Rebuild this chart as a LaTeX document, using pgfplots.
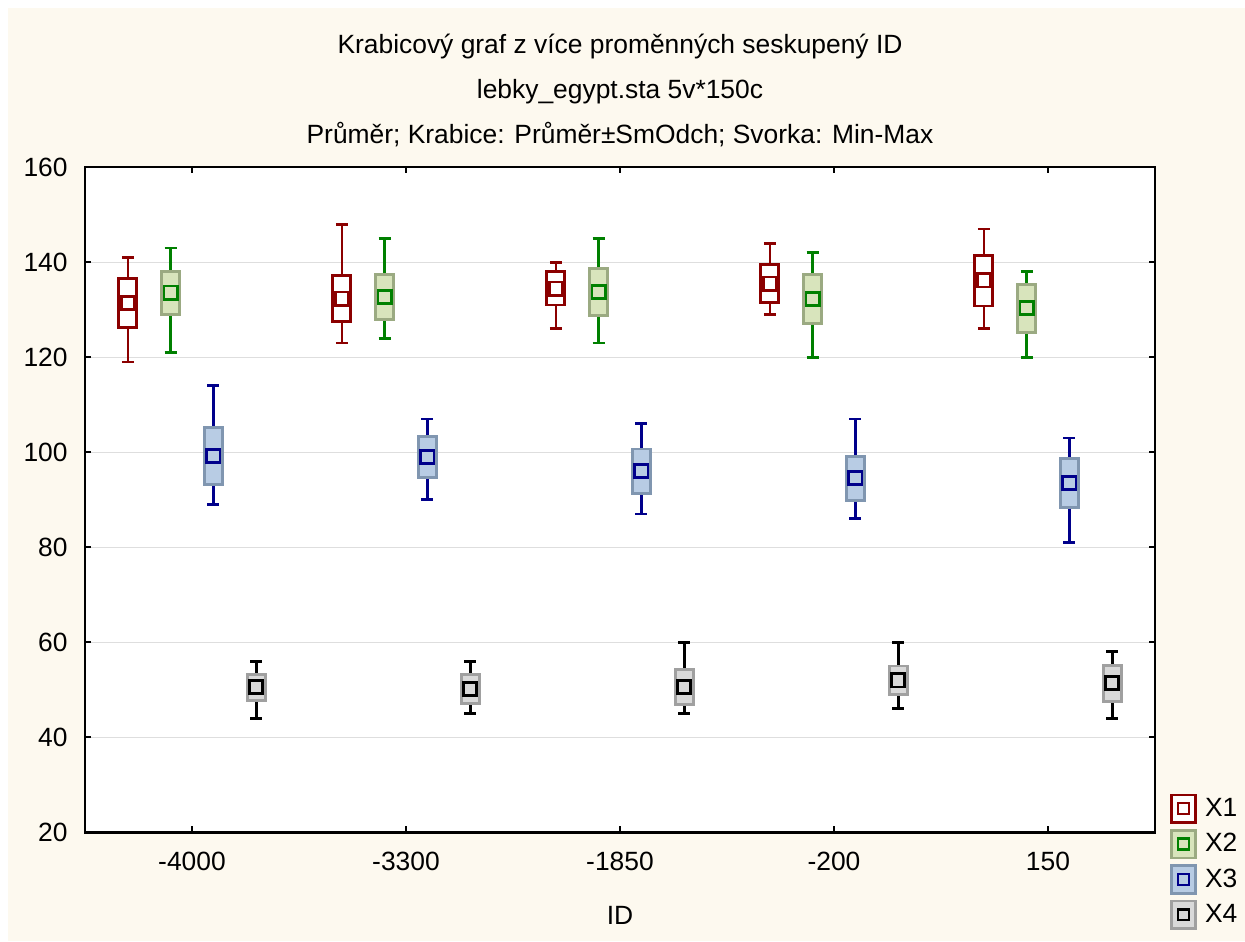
\documentclass[border=0pt]{standalone}
\usepackage{pgfplots}
\pgfplotsset{compat=1.18}
\usepgfplotslibrary{statistics}
\usepackage{fontspec}
\setmainfont{Liberation Sans}

\definecolor{bg}{RGB}{253,249,239}
\definecolor{cA}{RGB}{139,0,0}
\definecolor{cB}{RGB}{0,128,0}
\definecolor{cBf}{RGB}{216,228,188}
\definecolor{cBe}{RGB}{155,170,130}
\definecolor{cC}{RGB}{0,0,139}
\definecolor{cCf}{RGB}{184,204,228}
\definecolor{cCe}{RGB}{128,150,176}
\definecolor{cD}{RGB}{0,0,0}
\definecolor{cDf}{RGB}{217,217,217}
\definecolor{cDe}{RGB}{160,160,160}
\definecolor{grd}{RGB}{222,222,222}

\newcommand\fs{\fontsize{13.2}{15}\selectfont}

\pgfplotsset{
 bx/.style n args={3}{
   boxplot/draw direction=y,
   boxplot/every box/.style={draw=#2,fill=#3,line width=1.45pt},
   boxplot/every whisker/.style={draw=#1,line width=1.3pt},
   boxplot/every median/.style={draw=none},
   boxplot/box extend=0.085,
   boxplot/whisker extend=0.056,
   forget plot},
 mn/.style n args={2}{only marks, mark=square*, mark size=3.3pt,
   mark options={draw=#1, fill=#2, line width=1.4pt}, forget plot},
 lg/.style n args={3}{legend image code/.code={
   \draw[draw=#2,fill=#3,line width=1.3pt] (0pt,-6.9pt) rectangle (11.8pt,6.9pt);
   \draw[draw=#1,fill=#3,line width=1.2pt] (3.2pt,-2.7pt) rectangle (8.6pt,2.7pt);
   \path (14.5pt,0pt);}},
}

\begin{document}
\begin{tikzpicture}[x=1pt,y=1pt]
\fill[white] (0pt,0pt) rectangle (622.5pt,470.5pt);
\fill[bg] (4pt,0pt) rectangle (622.5pt,466.5pt);

\begin{axis}[
 at={(42.5pt,54.35pt)}, anchor=south west, scale only axis,
 width=535pt, height=332.5pt,
 xmin=0, xmax=5, ymin=20, ymax=160,
 xtick={0.5,1.5,2.5,3.5,4.5},
 xticklabels={-4000,-3300,-1850,-200,150},
 ytick={20,40,60,80,100,120,140,160},
 tick align=inside, major tick length=3pt,
 tick style={black, line width=1pt},
 axis line style={black, line width=1.2pt},
 ymajorgrids, grid style={grd, line width=0.6pt},
 axis background/.style={fill=white},
 ticklabel style={font=\fs},
 /pgf/number format/assume math mode=true,
 xticklabel style={inner sep=0pt, anchor=north, yshift=-9.75pt},
 yticklabel style={inner sep=0pt, anchor=east, xshift=-8.5pt},
 xlabel={ID},
 xlabel style={font=\fs, at={(axis description cs:0.5,0)}, anchor=center, yshift=-41.35pt},
 legend style={draw=none, fill=none, at={(1.0140,0.0588)}, anchor=north west,
   font=\fs, inner sep=0pt, row sep=2.6pt, legend cell align=left},
]
% ---- X1 ----
\addplot[bx={cA}{cA}{white}, boxplot prepared={draw position=0.2, lower whisker=119, lower quartile=126.2, median=131.37, upper quartile=136.6, upper whisker=141}] coordinates {};
\addplot[bx={cA}{cA}{white}, boxplot prepared={draw position=1.2, lower whisker=123, lower quartile=127.5, median=132.37, upper quartile=137.3, upper whisker=148}] coordinates {};
\addplot[bx={cA}{cA}{white}, boxplot prepared={draw position=2.2, lower whisker=126, lower quartile=131.0, median=134.47, upper quartile=138.0, upper whisker=140}] coordinates {};
\addplot[bx={cA}{cA}{white}, boxplot prepared={draw position=3.2, lower whisker=129, lower quartile=131.55, median=135.5, upper quartile=139.45, upper whisker=144}] coordinates {};
\addplot[bx={cA}{cA}{white}, boxplot prepared={draw position=4.2, lower whisker=126, lower quartile=130.8, median=136.17, upper quartile=141.5, upper whisker=147}] coordinates {};
% ---- X2 ----
\addplot[bx={cB}{cBe}{cBf}, boxplot prepared={draw position=0.4, lower whisker=121, lower quartile=129.1, median=133.6, upper quartile=138.1, upper whisker=143}] coordinates {};
\addplot[bx={cB}{cBe}{cBf}, boxplot prepared={draw position=1.4, lower whisker=124, lower quartile=127.95, median=132.7, upper quartile=137.45, upper whisker=145}] coordinates {};
\addplot[bx={cB}{cBe}{cBf}, boxplot prepared={draw position=2.4, lower whisker=123, lower quartile=128.85, median=133.8, upper quartile=138.75, upper whisker=145}] coordinates {};
\addplot[bx={cB}{cBe}{cBf}, boxplot prepared={draw position=3.4, lower whisker=120, lower quartile=127.1, median=132.3, upper quartile=137.5, upper whisker=142}] coordinates {};
\addplot[bx={cB}{cBe}{cBf}, boxplot prepared={draw position=4.4, lower whisker=120, lower quartile=125.3, median=130.33, upper quartile=135.4, upper whisker=138}] coordinates {};
% ---- X3 ----
\addplot[bx={cC}{cCe}{cCf}, boxplot prepared={draw position=0.6, lower whisker=89, lower quartile=93.2, median=99.17, upper quartile=105.2, upper whisker=114}] coordinates {};
\addplot[bx={cC}{cCe}{cCf}, boxplot prepared={draw position=1.6, lower whisker=90, lower quartile=94.7, median=99.07, upper quartile=103.4, upper whisker=107}] coordinates {};
\addplot[bx={cC}{cCe}{cCf}, boxplot prepared={draw position=2.6, lower whisker=87, lower quartile=91.4, median=96.03, upper quartile=100.7, upper whisker=106}] coordinates {};
\addplot[bx={cC}{cCe}{cCf}, boxplot prepared={draw position=3.6, lower whisker=86, lower quartile=89.8, median=94.53, upper quartile=99.2, upper whisker=107}] coordinates {};
\addplot[bx={cC}{cCe}{cCf}, boxplot prepared={draw position=4.6, lower whisker=81, lower quartile=88.4, median=93.5, upper quartile=98.6, upper whisker=103}] coordinates {};
% ---- X4 ----
\addplot[bx={cD}{cDe}{cDf}, boxplot prepared={draw position=0.8, lower whisker=44, lower quartile=47.7, median=50.53, upper quartile=53.3, upper whisker=56}] coordinates {};
\addplot[bx={cD}{cDe}{cDf}, boxplot prepared={draw position=1.8, lower whisker=45, lower quartile=47.2, median=50.23, upper quartile=53.3, upper whisker=56}] coordinates {};
\addplot[bx={cD}{cDe}{cDf}, boxplot prepared={draw position=2.8, lower whisker=45, lower quartile=46.9, median=50.57, upper quartile=54.3, upper whisker=60}] coordinates {};
\addplot[bx={cD}{cDe}{cDf}, boxplot prepared={draw position=3.8, lower whisker=46, lower quartile=49.0, median=51.97, upper quartile=55.0, upper whisker=60}] coordinates {};
\addplot[bx={cD}{cDe}{cDf}, boxplot prepared={draw position=4.8, lower whisker=44, lower quartile=47.5, median=51.37, upper quartile=55.2, upper whisker=58}] coordinates {};
% ---- means ----
\addplot[mn={cA}{white}] coordinates {(0.2,131.37) (1.2,132.37) (2.2,134.47) (3.2,135.5) (4.2,136.17)};
\addplot[mn={cB}{cBf}] coordinates {(0.4,133.6) (1.4,132.7) (2.4,133.8) (3.4,132.3) (4.4,130.33)};
\addplot[mn={cC}{cCf}] coordinates {(0.6,99.17) (1.6,99.07) (2.6,96.03) (3.6,94.53) (4.6,93.5)};
\addplot[mn={cD}{cDf}] coordinates {(0.8,50.53) (1.8,50.23) (2.8,50.57) (3.8,51.97) (4.8,51.37)};
% ---- legend ----
\addlegendimage{lg={cA}{cA}{white}}
\addlegendentry{X1}
\addlegendimage{lg={cB}{cBe}{cBf}}
\addlegendentry{X2}
\addlegendimage{lg={cC}{cCe}{cCf}}
\addlegendentry{X3}
\addlegendimage{lg={cD}{cDe}{cDf}}
\addlegendentry{X4}
\end{axis}

\node[align=center, font=\fontsize{13.2}{22.5}\selectfont] at (310pt,425.5pt)
 {Krabicový graf z více proměnných seskupený ID\\
  lebky\_egypt.sta 5v*150c\\
  Průměr; Krabice: Průměr±SmOdch; Svorka: Min-Max};

\pgfresetboundingbox
\path[use as bounding box] (0pt,0pt) rectangle (622.5pt,470.5pt);
\end{tikzpicture}
\end{document}
